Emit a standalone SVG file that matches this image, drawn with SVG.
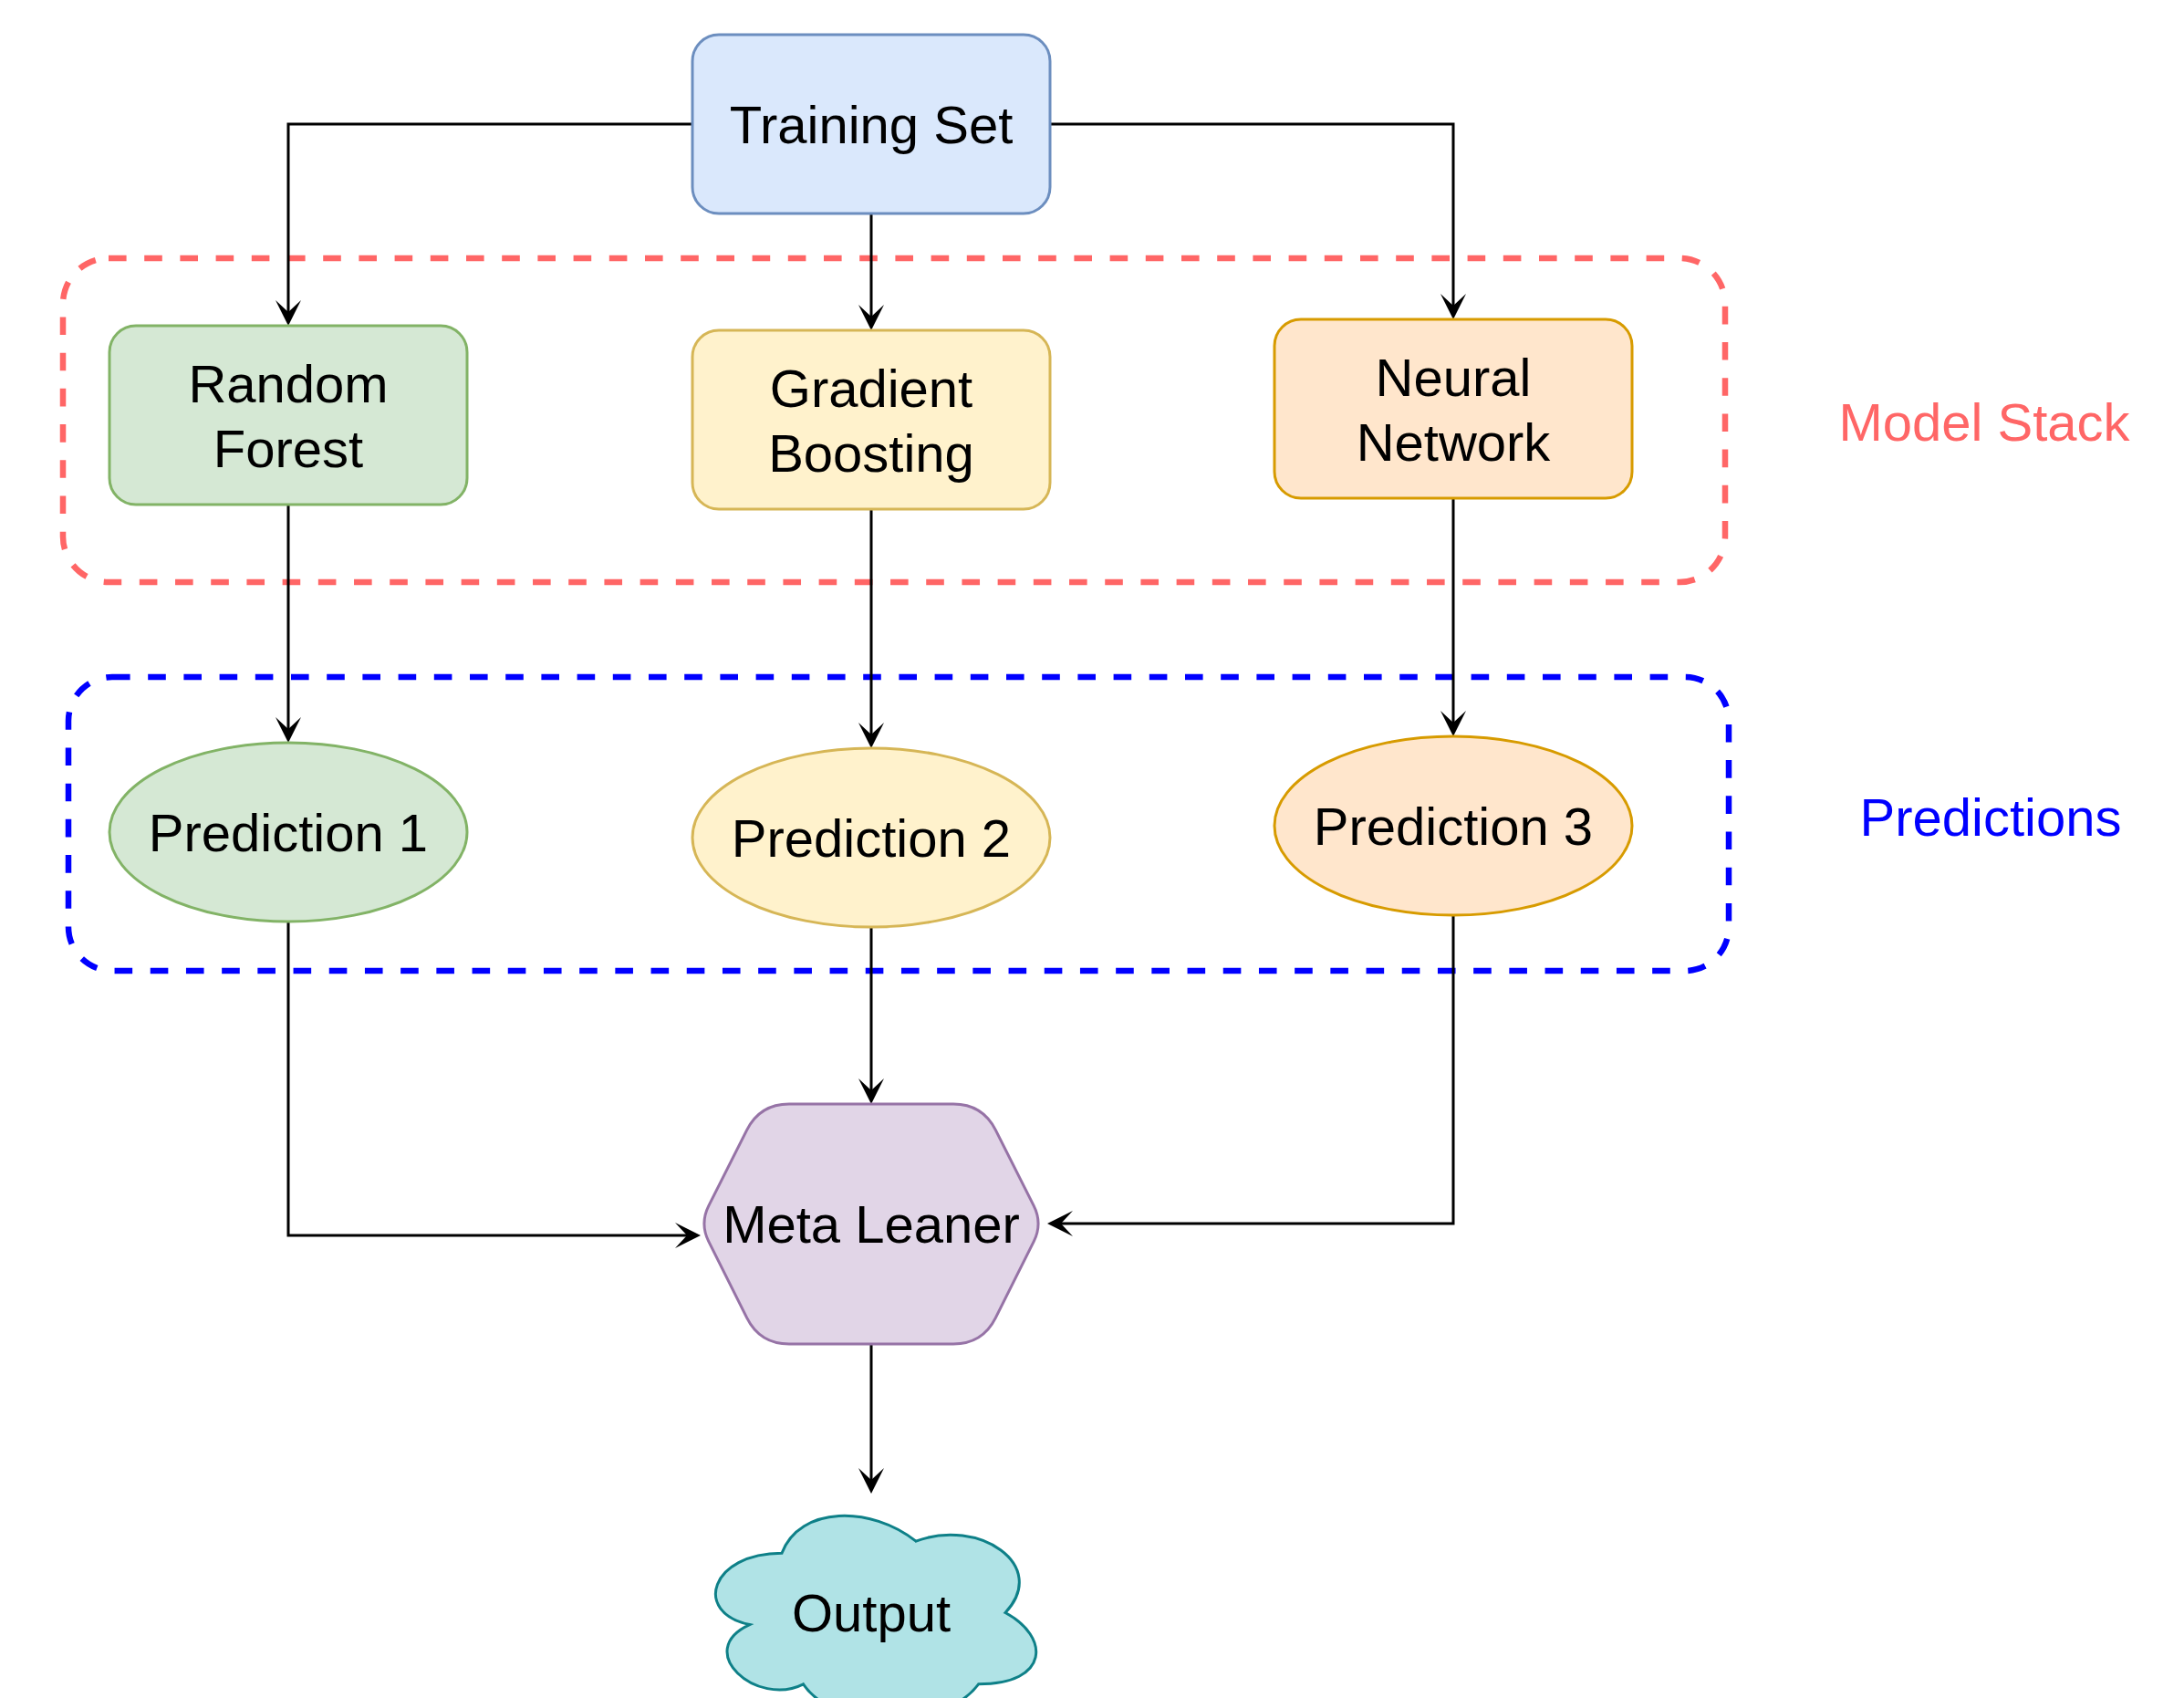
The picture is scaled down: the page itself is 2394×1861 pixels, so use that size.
<svg xmlns="http://www.w3.org/2000/svg" width="2394" height="1861" viewBox="0 0 2394 1861">
  <style>
    text { font-family: "Liberation Sans", Arial, Helvetica, sans-serif; font-size: 58px; fill: #000000; text-anchor: middle; }
    .node { stroke-width: 3; }
    .edge { fill: none; stroke: #000000; stroke-width: 3; marker-end: url(#arrow); }
    .group { fill: none; stroke-width: 6.5; stroke-dasharray: 19.6 19.6; }
    .caption { text-anchor: middle; }
  </style>
  <defs>
    <marker id="arrow" markerUnits="userSpaceOnUse" markerWidth="30" markerHeight="30" refX="13" refY="15" orient="auto">
      <path d="M28,15 L0,1 L13,15 L0,29 Z" fill="#000000"/>
    </marker>
  </defs>

  <rect x="0" y="0" width="2394" height="1861" fill="#ffffff"/>

  <!-- dashed grouping frames -->
  <g id="model-stack-frame">
    <rect class="group" x="69" y="283" width="1822" height="355" rx="50" ry="50" stroke="#ff6666"/>
    <text class="caption" x="2175" y="483" style="fill:#ff6666">Model Stack</text>
  </g>
  <g id="predictions-frame">
    <rect class="group" x="75" y="742" width="1820" height="322" rx="48" ry="48" stroke="#0000ff"/>
    <text class="caption" x="2182" y="916" style="fill:#0000ff">Predictions</text>
  </g>

  <!-- connectors -->
  <g id="connectors">
    <path class="edge" d="M759,136 L316,136 L316,342"/>
    <path class="edge" d="M955,234 L955,347"/>
    <path class="edge" d="M1151,136 L1593,136 L1593,335"/>
    <path class="edge" d="M316,553 L316,799"/>
    <path class="edge" d="M955,558 L955,805"/>
    <path class="edge" d="M1593,546 L1593,792"/>
    <path class="edge" d="M955,1016 L955,1195"/>
    <path class="edge" d="M316,1010 L316,1354 L753,1354"/>
    <path class="edge" d="M1593,1003 L1593,1341 L1163,1341"/>
    <path class="edge" d="M955,1473 L955,1622"/>
  </g>

  <!-- nodes -->
  <g id="training-set">
    <rect class="node" x="759" y="38" width="392" height="196" rx="29" ry="29" fill="#dae8fc" stroke="#6c8ebf"/>
    <text x="955" y="157">Training Set</text>
  </g>
  <g id="random-forest">
    <rect class="node" x="120" y="357" width="392" height="196" rx="29" ry="29" fill="#d5e8d4" stroke="#82b366"/>
    <text x="316" y="441">Random</text>
    <text x="316" y="512">Forest</text>
  </g>
  <g id="gradient-boosting">
    <rect class="node" x="759" y="362" width="392" height="196" rx="29" ry="29" fill="#fff2cc" stroke="#d6b656"/>
    <text x="955" y="446">Gradient</text>
    <text x="955" y="517">Boosting</text>
  </g>
  <g id="neural-network">
    <rect class="node" x="1397" y="350" width="392" height="196" rx="29" ry="29" fill="#ffe6cc" stroke="#d79b00"/>
    <text x="1593" y="434">Neural</text>
    <text x="1593" y="505">Network</text>
  </g>
  <g id="prediction-1">
    <ellipse class="node" cx="316" cy="912" rx="196" ry="98" fill="#d5e8d4" stroke="#82b366"/>
    <text x="316" y="933">Prediction 1</text>
  </g>
  <g id="prediction-2">
    <ellipse class="node" cx="955" cy="918" rx="196" ry="98" fill="#fff2cc" stroke="#d6b656"/>
    <text x="955" y="939">Prediction 2</text>
  </g>
  <g id="prediction-3">
    <ellipse class="node" cx="1593" cy="905" rx="196" ry="98" fill="#ffe6cc" stroke="#d79b00"/>
    <text x="1593" y="926">Prediction 3</text>
  </g>
  <g id="meta-learner">
    <path class="node" d="M865,1210 L1045,1210 Q1077,1210 1091.4,1238.6 L1133.1,1321.4 Q1143,1341 1133.2,1360.7 L1091.3,1444.4 Q1077,1473 1045,1473 L865,1473 Q833,1473 818.7,1444.4 L776.8,1360.7 Q767,1341 776.9,1321.4 L818.6,1238.6 Q833,1210 865,1210 Z" fill="#e1d5e7" stroke="#9673a6"/>
    <text x="955" y="1362">Meta Leaner</text>
  </g>
  <g id="output">
    <path class="node" d="M857,1702.25 C778.6,1702.25 759,1767.5 821.72,1780.55 C759,1809.26 829.56,1871.9 880.52,1845.8 C915.8,1898 1033.4,1898 1072.6,1845.8 C1151,1845.8 1151,1793.6 1102,1767.5 C1151,1715.3 1072.6,1663.1 1004,1689.2 C955,1650.05 876.6,1650.05 857,1702.25 Z" fill="#b0e3e6" stroke="#0e8088"/>
    <text x="955" y="1788">Output</text>
  </g>
</svg>
